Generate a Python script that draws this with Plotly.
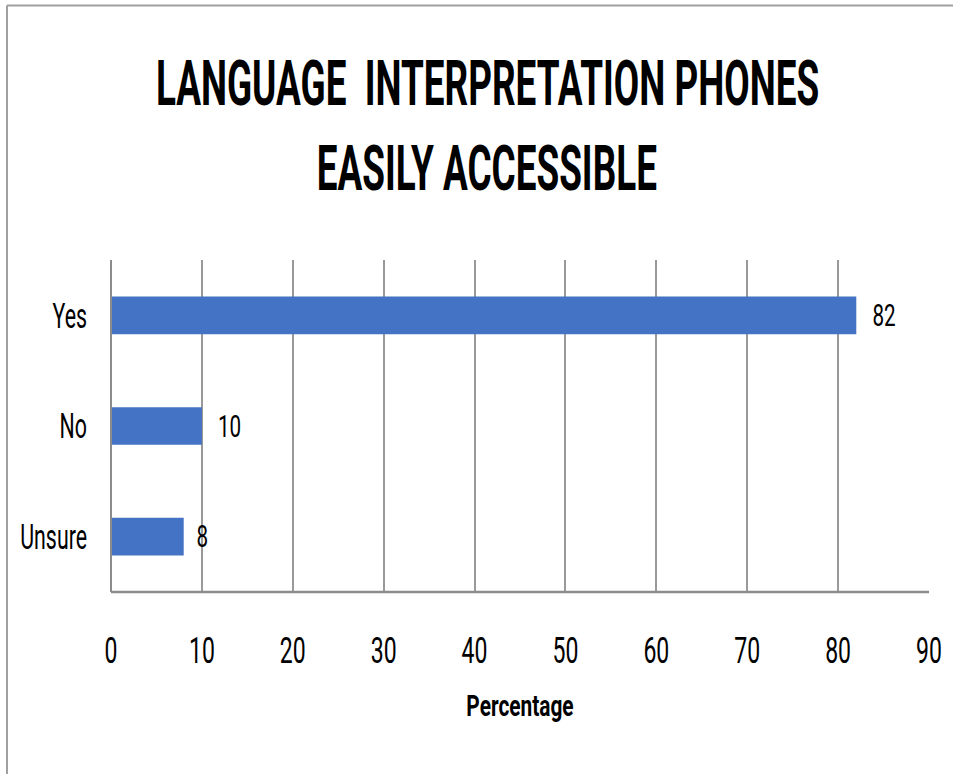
import plotly.graph_objects as go

categories = ["Unsure", "No", "Yes"]
values = [8, 10, 82]
x_ticks = [0, 10, 20, 30, 40, 50, 60, 70, 80, 90]
title_lines = ["LANGUAGE  INTERPRETATION PHONES", "EASILY ACCESSIBLE"]

FONT = "Roboto, sans-serif"
W, H = 953, 774
L, R, T, B = 111, 24, 260, 182
pw, ph = W - L - R, H - T - B


def px2x(px):
    return (px - L) / pw


def py2y(py):
    return 1 - (py - T) / ph


fig = go.Figure(go.Bar(
    y=categories, x=values, orientation="h",
    marker=dict(color="#4472C4", line=dict(width=0)),
    text=[" " + str(v) for v in values], textposition="outside",
    textfont=dict(family=FONT, size=36, color="#000000"),
    cliponaxis=False, width=0.34,
))

fig.update_layout(
    width=W, height=H,
    margin=dict(l=L, r=R, t=T, b=B, autoexpand=False),
    paper_bgcolor="white", plot_bgcolor="white",
    showlegend=False,
    xaxis=dict(
        range=[0, 90], tickvals=x_ticks, ticktext=[str(t) for t in x_ticks],
        showgrid=True, gridcolor="#999999", gridwidth=1.5,
        zeroline=False, showline=False, ticks="", automargin=False,
        tickfont=dict(family=FONT, size=36, color="#000000"),
        ticklabelstandoff=34,
        title=dict(text="<b>Percentage</b>", font=dict(family=FONT, size=29, color="#000000"), standoff=24),
    ),
    yaxis=dict(
        showgrid=False, zeroline=False, showline=False, ticks="", automargin=False,
        tickfont=dict(family=FONT, size=35, color="#000000"),
        ticklabelstandoff=23,
    ),
)

for text, cy in zip(title_lines, [83, 169]):
    fig.add_annotation(
        text="<b>" + text + "</b>", xref="paper", yref="paper",
        x=px2x(487), y=py2y(cy), xanchor="center", yanchor="middle",
        showarrow=False, font=dict(family=FONT, size=62, color="#000000"),
    )

# axis lines
fig.add_shape(type="line", xref="paper", yref="paper", x0=0, x1=1, y0=0, y1=0,
              line=dict(color="#8c8c8c", width=2.5))
fig.add_shape(type="line", xref="paper", yref="paper", x0=0, x1=0, y0=0, y1=1,
              line=dict(color="#8c8c8c", width=2))
# outer border
fig.add_shape(type="line", xref="paper", yref="paper", x0=px2x(7), x1=px2x(960), y0=py2y(5.5), y1=py2y(5.5),
              line=dict(color="#a0a0a0", width=2))
fig.add_shape(type="line", xref="paper", yref="paper", x0=px2x(7), x1=px2x(7), y0=py2y(5.5), y1=py2y(800),
              line=dict(color="#a0a0a0", width=2))

# Horizontally condense text (the original uses a narrow, tall typeface)
post = """
var gd = document.getElementById('{plot_id}');
function squeeze(sel, s) {
  gd.querySelectorAll(sel).forEach(function (t) {
    var b = t.getBBox();
    var a = t.getAttribute('text-anchor') || window.getComputedStyle(t).textAnchor || 'start';
    var cx = a === 'end' ? b.x + b.width : (a === 'middle' ? b.x + b.width / 2 : b.x);
    var tr = t.getAttribute('transform') || '';
    t.setAttribute('transform', tr + ' translate(' + cx + ',0) scale(' + s + ',1) translate(' + (-cx) + ',0)');
  });
}
squeeze('.annotation-text', 0.595);
squeeze('.xtick text', 0.64);
squeeze('.ytick text', 0.61);
squeeze('text.bartext', 0.64);
squeeze('text.xtitle', 0.72);
"""

fig.write_html("out.html", post_script=post)
